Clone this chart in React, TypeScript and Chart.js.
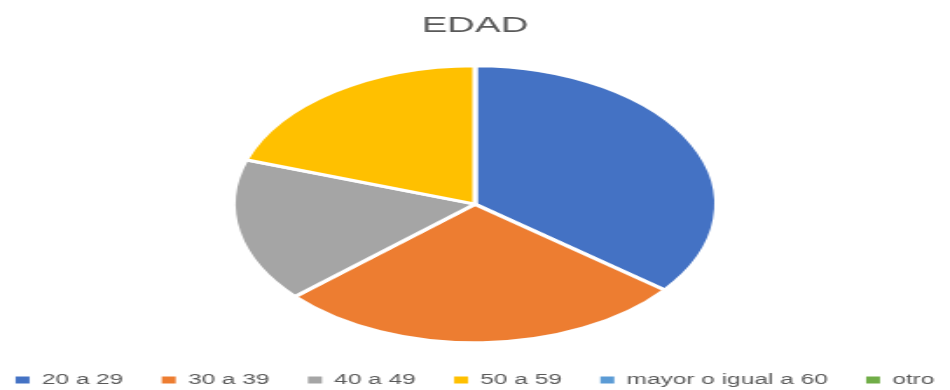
import React, { useEffect, useRef } from "react";
import { Chart, registerables } from "chart.js";

Chart.register(...registerables);

const title = "EDAD";
const categories = ["20 a 29", "30 a 39", "40 a 49", "50 a 59", "mayor o igual a 60", "otro"];
const values = [36, 28, 17, 20, 0, 0];
const colors = ["#4472C4", "#ED7D31", "#A5A5A5", "#FFC000", "#5B9BD5", "#70AD47"];

const CANVAS_W = 544;
const CANVAS_H = 390;
const DISPLAY_W = 950;
const FONT = "'Liberation Sans', Arial, sans-serif";

export default function App() {
  const ref = useRef<HTMLCanvasElement>(null);

  useEffect(() => {
    document.body.style.margin = "0";
    const canvas = ref.current!;
    canvas.width = CANVAS_W;
    canvas.height = CANVAS_H;
    canvas.style.width = DISPLAY_W + "px";
    canvas.style.height = CANVAS_H + "px";
    const defaultLabels = (Chart as any).overrides.pie.plugins.legend.labels.generateLabels;
    const chart = new Chart(canvas, {
      type: "pie",
      data: {
        labels: categories,
        datasets: [
          {
            data: values,
            backgroundColor: colors,
            borderColor: "#ffffff",
            borderWidth: 3,
            radius: 138.5,
          },
        ],
      },
      options: {
        responsive: false,
        animation: false,
        devicePixelRatio: 1,
        layout: { padding: { top: 0, bottom: -7, left: -20, right: -20 } },
        plugins: {
          title: {
            display: true,
            text: title,
            color: "#595959",
            font: { family: FONT, size: 22, weight: "normal" },
            padding: { top: 12.8, bottom: 18.2 },
          },
          legend: {
            position: "bottom",
            labels: {
              boxWidth: 8,
              boxHeight: 7,
              padding: 22,
              color: "#595959",
              font: { family: FONT, size: 14 },
              generateLabels: (c: any) =>
                defaultLabels(c).map((l: any) => ({ ...l, lineWidth: 0, strokeStyle: "rgba(0,0,0,0)" })),
            },
          },
          tooltip: { enabled: false },
        },
      },
    });
    return () => chart.destroy();
  }, []);

  return (
    <div style={{ width: DISPLAY_W, height: CANVAS_H, overflow: "hidden", background: "#fff" }}>
      <canvas
        ref={ref}
        width={CANVAS_W}
        height={CANVAS_H}
        style={{ display: "block", width: DISPLAY_W + "px", height: CANVAS_H + "px" }}
      />
    </div>
  );
}
